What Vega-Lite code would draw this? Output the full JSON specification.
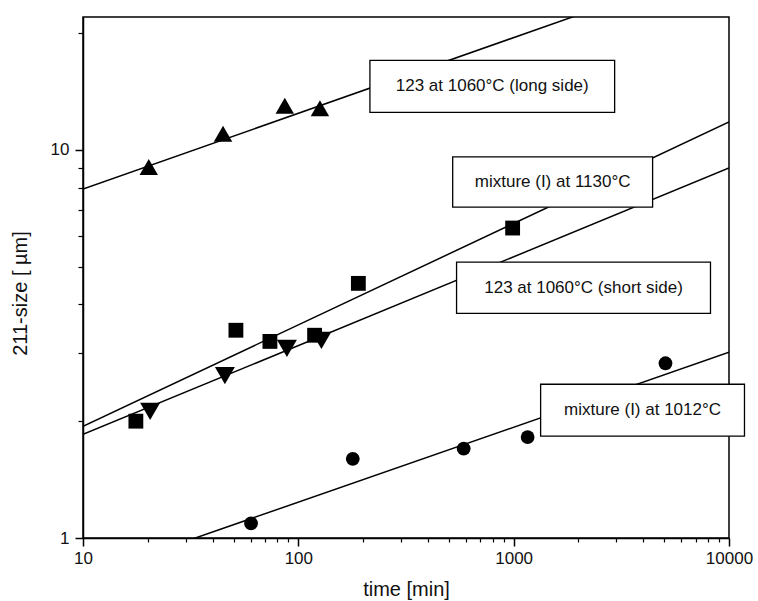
{
  "$schema": "https://vega.github.io/schema/vega-lite/v6.json",
  "width": 646,
  "height": 521,
  "autosize": {"type": "none"},
  "padding": {"left": 83, "top": 17, "right": 29, "bottom": 63},
  "background": "white",
  "config": {
    "view": {"stroke": "black", "strokeWidth": 1.5},
    "font": "Liberation Sans",
    "axis": {"domainColor": "black", "tickColor": "black", "labelColor": "#111", "titleColor": "#111", "grid": false}
  },
  "datasets": {
    "points": [
      {"series": "long", "time": 20.2, "size": 9.04},
      {"series": "long", "time": 44.7, "size": 11.0},
      {"series": "long", "time": 86.5, "size": 13.0},
      {"series": "long", "time": 126, "size": 12.8},
      {"series": "m1130", "time": 17.6, "size": 2.0},
      {"series": "m1130", "time": 51.3, "size": 3.43},
      {"series": "m1130", "time": 73.8, "size": 3.21},
      {"series": "m1130", "time": 119, "size": 3.33},
      {"series": "m1130", "time": 190, "size": 4.53},
      {"series": "m1130", "time": 989, "size": 6.29},
      {"series": "short", "time": 20.5, "size": 2.12},
      {"series": "short", "time": 45.6, "size": 2.62},
      {"series": "short", "time": 88.5, "size": 3.08},
      {"series": "short", "time": 128, "size": 3.23},
      {"series": "m1012", "time": 60.3, "size": 1.09},
      {"series": "m1012", "time": 179, "size": 1.6},
      {"series": "m1012", "time": 586, "size": 1.7},
      {"series": "m1012", "time": 1161, "size": 1.82},
      {"series": "m1012", "time": 5070, "size": 2.82}
    ],
    "fits": [
      {"series": "long", "time": 10, "size": 7.93},
      {"series": "long", "time": 10000, "size": 30.5},
      {"series": "m1130", "time": 10, "size": 1.94},
      {"series": "m1130", "time": 10000, "size": 11.8},
      {"series": "short", "time": 10, "size": 1.85},
      {"series": "short", "time": 10000, "size": 8.98},
      {"series": "m1012", "time": 10, "size": 0.793},
      {"series": "m1012", "time": 10000, "size": 3.01}
    ],
    "labels": [
      {"label": "123 at 1060°C (long side)", "t1": 215, "t2": 2944, "s1": 12.5, "s2": 17.0, "tc": 795, "sc": 14.6},
      {"label": "mixture (I) at 1130°C", "t1": 521, "t2": 4418, "s1": 7.12, "s2": 9.59, "tc": 1517, "sc": 8.27},
      {"label": "123 at 1060°C (short side)", "t1": 543, "t2": 8204, "s1": 3.79, "s2": 5.14, "tc": 2111, "sc": 4.42},
      {"label": "mixture (I) at 1012°C", "t1": 1334, "t2": 11800, "s1": 1.83, "s2": 2.49, "tc": 3967, "sc": 2.14}
    ]
  },
  "resolve": {"axis": {"x": "independent", "y": "independent"}},
  "layer": [
    {
      "data": {"name": "fits"},
      "mark": {"type": "line", "color": "black", "strokeWidth": 1.5, "clip": true},
      "encoding": {
        "x": {"field": "time", "type": "quantitative",
              "scale": {"type": "log", "domain": [10, 10000], "nice": false},
              "axis": {"orient": "bottom", "values": [10, 100, 1000, 10000], "format": "d", "tickSize": 8, "tickWidth": 1.5, "domainWidth": 1.5,
                       "labelFontSize": 17, "labelPadding": 4, "labelFlush": false,
                       "title": "time [min]", "titleFontSize": 20, "titleFontWeight": "normal", "titleY": 57, "titleBaseline": "alphabetic"}},
        "y": {"field": "size", "type": "quantitative",
              "scale": {"type": "log", "domain": [1, 22], "nice": false},
              "axis": {"orient": "left", "values": [1, 10], "format": "d", "tickSize": 8, "tickWidth": 1.5, "domainWidth": 1.5,
                       "labelFontSize": 17, "labelPadding": 6,
                       "title": "211-size [ µm]", "titleFontSize": 20, "titleFontWeight": "normal", "titleX": -63, "titleY": 276, "titleAngle": -90, "titleAlign": "center", "titleBaseline": "middle"}},
        "detail": {"field": "series"}
      }
    },
    {
      "data": {"name": "labels"},
      "mark": {"type": "rect", "fill": "white", "stroke": "black", "strokeWidth": 1.3},
      "encoding": {
        "x": {"field": "t1", "type": "quantitative", "axis": null},
        "x2": {"field": "t2"},
        "y": {"field": "s1", "type": "quantitative", "axis": null},
        "y2": {"field": "s2"}
      }
    },
    {
      "data": {"name": "labels"},
      "mark": {"type": "text", "fontSize": 17, "color": "#111", "align": "center", "baseline": "middle"},
      "encoding": {
        "x": {"field": "tc", "type": "quantitative", "axis": null},
        "y": {"field": "sc", "type": "quantitative", "axis": null},
        "text": {"field": "label"}
      }
    },
    {
      "data": {"name": "points"},
      "mark": {"type": "point", "filled": true, "color": "black", "opacity": 1, "strokeWidth": 0},
      "encoding": {
        "x": {"field": "time", "type": "quantitative",
              "axis": {"orient": "bottom", "values": [20, 30, 40, 50, 60, 70, 80, 90, 200, 300, 400, 500, 600, 700, 800, 900, 2000, 3000, 4000, 5000, 6000, 7000, 8000, 9000],
                       "labels": false, "domain": false, "tickSize": 4, "tickWidth": 1.2, "title": null}},
        "y": {"field": "size", "type": "quantitative",
              "axis": {"orient": "left", "values": [2, 3, 4, 5, 6, 7, 8, 9, 20],
                       "labels": false, "domain": false, "tickSize": 5, "tickWidth": 1.2, "title": null}},
        "shape": {"field": "series", "type": "nominal",
                  "scale": {"domain": ["long", "m1130", "short", "m1012"], "range": ["triangle-up", "square", "triangle-down", "circle"]},
                  "legend": null},
        "size": {"field": "series", "type": "nominal",
                 "scale": {"type": "ordinal", "domain": ["long", "m1130", "short", "m1012"], "range": [340, 220, 400, 190]},
                 "legend": null}
      }
    }
  ]
}
